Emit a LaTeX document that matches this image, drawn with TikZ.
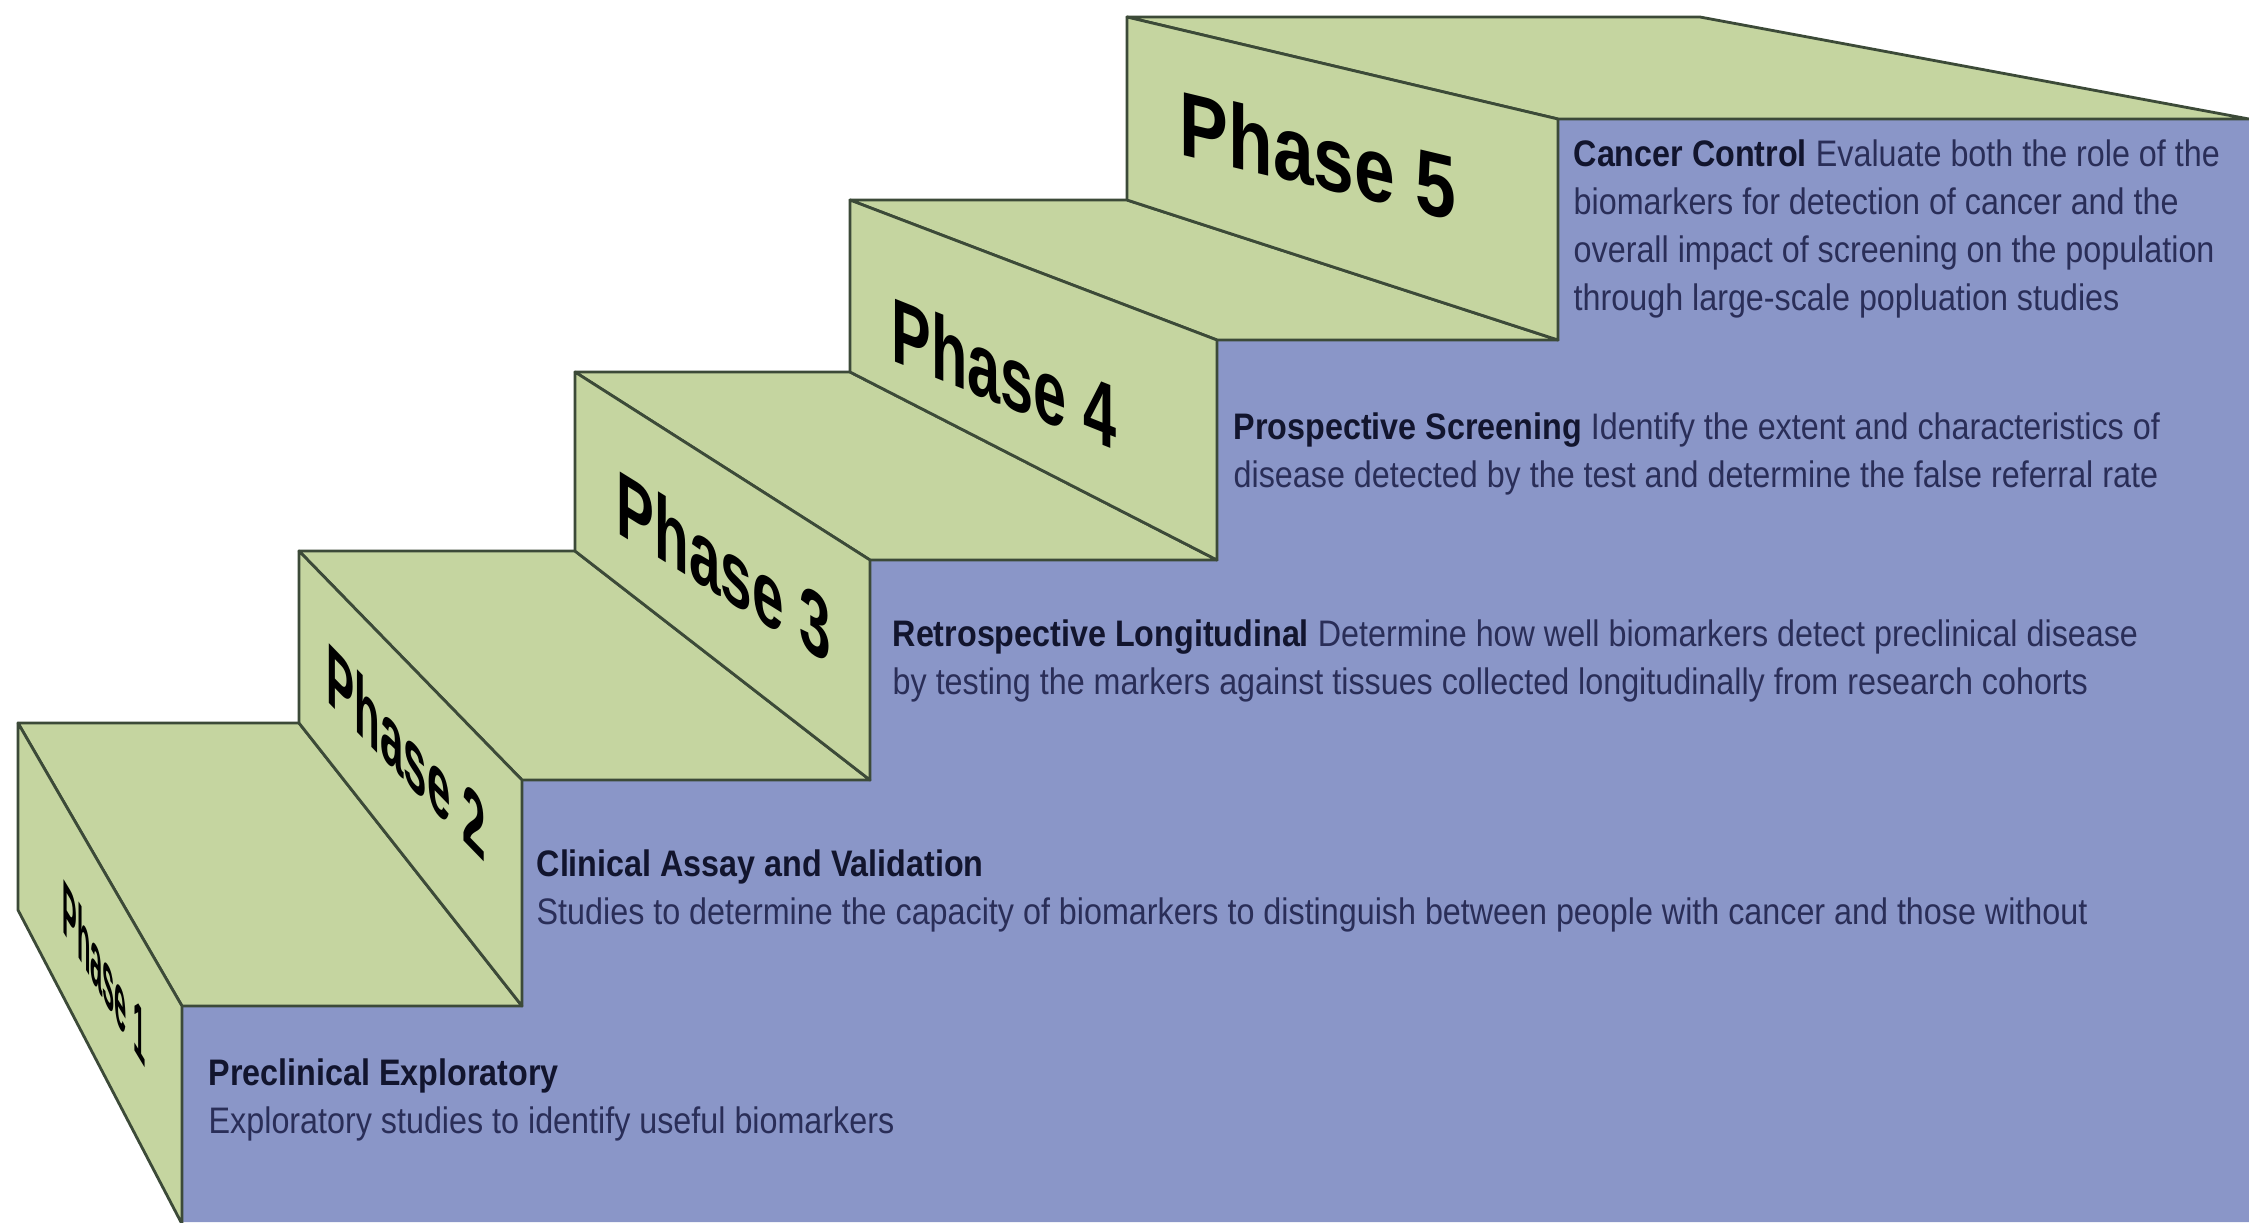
\documentclass[tikz,border=0pt]{standalone}
\usepackage{fontspec}
\setmainfont{Liberation Sans}
\newfontfamily\descfont{Liberation Sans}[FakeStretch=0.875]
\definecolor{stepgreen}{HTML}{C5D5A0}
\definecolor{sideblue}{HTML}{8A96C8}
\definecolor{edgegray}{HTML}{3C4A38}
\definecolor{headink}{HTML}{12152E}
\definecolor{bodyink}{HTML}{2A2E58}
\newcommand\stephead[1]{{\color{headink}\bfseries #1}}

\begin{document}
\begin{tikzpicture}[
    x=0.1mm, y=-0.1mm,
    face/.style={fill=stepgreen, draw=edgegray, line width=0.8pt, line join=round},
    side/.style={fill=sideblue},
    phase/.style={transform shape, inner sep=0pt, text=black,
        font=\fontsize{26}{28}\selectfont\bfseries},
    desc/.style={anchor=west, inner sep=0pt, align=left, text=bodyink,
        font=\descfont\fontsize{10.5}{13.66}\selectfont}
    ]
    \useasboundingbox[fill=white] (0,0) rectangle (2249,1222);
    \clip (0,0) rectangle (2249,1222);

    \fill[side] (182,1222) -- (182,1006) -- (522,1006) -- (522,780) -- (870,780)
        -- (870,560) -- (1217,560) -- (1217,340) -- (1558,340) -- (1558,119)
        -- (2249,119) -- (2249,1222) -- cycle;

    % treads
    \draw[face] (18,723) -- (299,723) -- (522,1006) -- (182,1006) -- cycle;
    \draw[face] (299,551) -- (575,551) -- (870,780) -- (522,780) -- cycle;
    \draw[face] (575,372) -- (850,372) -- (1217,560) -- (870,560) -- cycle;
    \draw[face] (850,200) -- (1127,200) -- (1558,340) -- (1217,340) -- cycle;
    \draw[face] (1127,17) -- (1700,17) -- (2249,119) -- (1558,119) -- cycle;

    % risers
    \draw[face] (18,723) -- (182,1006) -- (182,1224) -- (18,910) -- cycle;
    \draw[face] (299,551) -- (522,780) -- (522,1006) -- (299,723) -- cycle;
    \draw[face] (575,372) -- (870,560) -- (870,780) -- (575,551) -- cycle;
    \draw[face] (850,200) -- (1217,340) -- (1217,560) -- (850,372) -- cycle;
    \draw[face] (1127,17) -- (1558,119) -- (1558,340) -- (1127,200) -- cycle;

    \begin{scope}[shift={(104,972)}, cm={0.24,-0.40,0,0.85,(0,0)}]
        \node[phase] (ph1) at (0,0) {Phase 1};
    \end{scope}
    \begin{scope}[shift={(406,751)}, cm={0.46,-0.474,0,0.95,(0,0)}]
        \node[phase] (ph2) at (0,0) {Phase 2};
    \end{scope}
    \begin{scope}[shift={(724,566)}, cm={0.62,-0.384,0,1,(0,0)}]
        \node[phase] (ph3) at (0,0) {Phase 3};
    \end{scope}
    \begin{scope}[shift={(1004,373)}, cm={0.65,-0.26,0,1,(0,0)}]
        \node[phase] (ph4) at (0,0) {Phase 4};
    \end{scope}
    \begin{scope}[shift={(1318,155)}, cm={0.80,-0.192,0,1,(0,0)}]
        \node[phase] (ph5) at (0,0) {Phase 5};
    \end{scope}

    \node[desc] (desc1) at (208,1100) {\stephead{Preclinical Exploratory}\\
        Exploratory studies to identify useful biomarkers};
    \node[desc] (desc2) at (536,891) {\stephead{Clinical Assay and Validation}\\
        Studies to determine the capacity of biomarkers to distinguish between people with cancer and those without};
    \node[desc] (desc3) at (892,661) {\stephead{Retrospective Longitudinal} Determine how well biomarkers detect preclinical disease\\
        by testing the markers against tissues collected longitudinally from research cohorts};
    \node[desc] (desc4) at (1233,454) {\stephead{Prospective Screening} Identify the extent and characteristics of\\
        disease detected by the test and determine the false referral rate};
    \node[desc] (desc5) at (1573,229) {\stephead{Cancer Control} Evaluate both the role of the\\
        biomarkers for detection of cancer and the\\
        overall impact of screening on the population\\
        through large-scale popluation studies};
\end{tikzpicture}
\end{document}
